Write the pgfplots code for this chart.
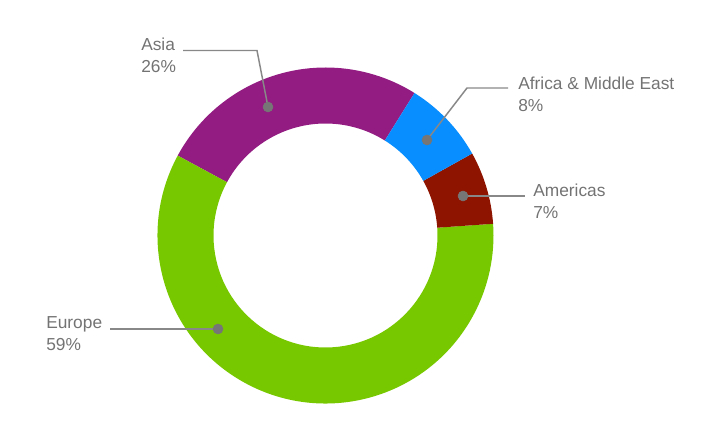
\documentclass[border=0pt]{standalone}
\usepackage{pgfplots}
\pgfplotsset{compat=1.18}
\usepackage{pgfplotstable}
\usepackage{fontspec}
\setmainfont{Liberation Sans}
\definecolor{cAsia}{RGB}{147,28,130}
\definecolor{cEurope}{RGB}{120,200,0}
\definecolor{cAmericas}{RGB}{142,20,0}
\definecolor{cAfrica}{RGB}{8,142,255}
\definecolor{labelgray}{RGB}{115,115,115}
\definecolor{linegray}{RGB}{136,136,136}
\definecolor{dotgray}{RGB}{118,118,118}
\pgfplotstableread{
region share
Asia 26
Europe 59
Americas 7
Africa 8
}\shares
\newcommand\donutwedge[3]{%
  \fill[#3] (axis cs:325.5,192.5) ++(#1:126pt) arc[start angle=#1,end angle=#2,radius=126pt]
    -- ([shift={(#2:84pt)}]axis cs:325.5,192.5) arc[start angle=#2,end angle=#1,radius=84pt] -- cycle;}
\begin{document}
\begin{tikzpicture}
\pgfplotstablegetelem{0}{share}\of\shares \pgfmathsetmacro\sA{\pgfplotsretval}
\pgfplotstablegetelem{1}{share}\of\shares \pgfmathsetmacro\sB{\pgfplotsretval}
\pgfplotstablegetelem{2}{share}\of\shares \pgfmathsetmacro\sC{\pgfplotsretval}
\pgfplotstablegetelem{3}{share}\of\shares \pgfmathsetmacro\sD{\pgfplotsretval}
\pgfmathsetmacro\aA{58}
\pgfmathsetmacro\aB{\aA+3.6*\sA}
\pgfmathsetmacro\aC{\aB+3.6*\sB}
\pgfmathsetmacro\aD{\aC+3.6*\sC}
\pgfmathsetmacro\aE{\aD+3.6*\sD}
\begin{axis}[
  x=0.75pt, y=0.75pt,
  xmin=0, xmax=707, ymin=0, ymax=428,
  hide axis, clip=false,
]
\path (axis cs:0,0) rectangle (axis cs:707,428);
\donutwedge{\aA}{\aB}{cAsia}
\donutwedge{\aB}{\aC}{cEurope}
\donutwedge{\aC}{\aD}{cAmericas}
\donutwedge{\aD}{\aE}{cAfrica}
% leader lines
\addplot[linegray, line width=1.1pt, no marks] coordinates {(183,377.5) (257,377.5) (268,321)};
\addplot[linegray, line width=1.1pt, no marks] coordinates {(508,340) (467,340) (427,288)};
\addplot[linegray, line width=1.1pt, no marks] coordinates {(463,232) (525,232)};
\addplot[linegray, line width=1.1pt, no marks] coordinates {(110,99) (218,99)};
% dots
\addplot[only marks, mark=*, mark size=3.75pt, dotgray, mark options={draw=dotgray, fill=dotgray}] coordinates {(268,321) (427,288) (463,232) (218,99)};
% labels
\begin{scope}[every node/.style={anchor=base west, inner sep=0pt, text=labelgray, font=\fontsize{13}{15}\selectfont}]
\node at (axis cs:141,377) {Asia};
\node at (axis cs:141,355) {26\%};
\node at (axis cs:518,338) {Africa \& Middle East};
\node at (axis cs:518,316) {8\%};
\node at (axis cs:533,231) {Americas};
\node at (axis cs:533,209) {7\%};
\node at (axis cs:46,99) {Europe};
\node at (axis cs:46,77) {59\%};
\end{scope}
\end{axis}
\end{tikzpicture}
\end{document}
